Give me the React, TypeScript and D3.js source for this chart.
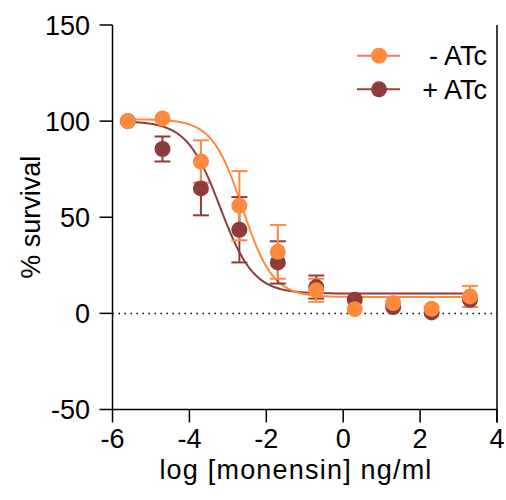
import React from 'react';
import * as d3 from 'd3';

// log10 concentration of each dilution
const logConc = [-5.6, -4.7, -3.7, -2.7, -1.7, -0.7, 0.3, 1.3, 2.3, 3.3];

// - ATc (orange)
const minusMean = [100, 101.4, 79, 56, 32, 12, 2.2, 5.4, 2.4, 8.8];
const minusErr = [0, 0, 11, 18, 14, 6, 0, 0, 0, 5.5];

// + ATc (dark red)
const plusMean = [100, 85.5, 65, 43.5, 26.5, 13.7, 7.1, 3.3, 0.5, 7.1];
const plusErr = [0, 6.5, 14, 17, 11, 6, 0, 0, 0, 0];

// fitted 4-parameter logistic curves: [top, bottom, logIC50, hill]
const minusFit = [101, 8.5, -2.62, 1.1];
const plusFit = [100, 10.3, -3.2, 1.0];

const xTicks = [-6, -4, -2, 0, 2, 4];
const yTicks = [-50, 0, 50, 100, 150];

const ORANGE = '#ff8a3d';
const DARK = '#8e3b3b';
const FONT = '"Liberation Sans", Arial, sans-serif';

const App = () => {
  const width = 506;
  const height = 500;

  const x = d3.scaleLinear().domain([-6, 4]).range([112.5, 497]);
  const y = d3.scaleLinear().domain([-50, 150]).range([409.5, 25]);

  const logistic = (p: number[]) => (v: number) =>
    p[1] + (p[0] - p[1]) / (1 + Math.pow(10, (v - p[2]) * p[3]));

  const curveXs = d3.range(logConc[0], logConc[logConc.length - 1] + 0.001, 0.02);
  const line = d3.line<number>().x(d => x(d)).y(d => y(0));

  const curvePath = (p: number[]) => {
    const f = logistic(p);
    return d3.line<number>().x(d => x(d)).y(d => y(f(d)))(curveXs) || '';
  };

  const series = [
    { name: '+ ATc', mean: plusMean, err: plusErr, color: DARK },
    { name: '- ATc', mean: minusMean, err: minusErr, color: ORANGE },
  ];

  const cap = 8;
  const r = 8;

  return (
    <svg width={width} height={height} style={{ position: 'absolute', left: 0, top: 0, background: '#fff' }}
      fontFamily={FONT}>
      {/* zero reference line */}
      <path d={line([-6, 4]) || ''} stroke="#000" strokeWidth={1.5} strokeDasharray="1.5,4.5" fill="none" />

      {/* fitted curves */}
      <path d={curvePath(plusFit)} stroke={DARK} strokeWidth={2} fill="none" />
      <path d={curvePath(minusFit)} stroke={ORANGE} strokeWidth={2} fill="none" />

      {/* error bars */}
      {series.map(s => (
        <g key={s.name + 'err'} stroke={s.color} strokeWidth={2}>
          {logConc.map((c, i) => s.err[i] > 0 ? (
            <g key={i}>
              <line x1={x(c)} x2={x(c)} y1={y(s.mean[i] + s.err[i])} y2={y(s.mean[i] - s.err[i])} />
              <line x1={x(c) - cap} x2={x(c) + cap} y1={y(s.mean[i] + s.err[i])} y2={y(s.mean[i] + s.err[i])} />
              <line x1={x(c) - cap} x2={x(c) + cap} y1={y(s.mean[i] - s.err[i])} y2={y(s.mean[i] - s.err[i])} />
            </g>
          ) : null)}
        </g>
      ))}

      {/* markers */}
      {series.map(s => (
        <g key={s.name + 'pts'} fill={s.color}>
          {logConc.map((c, i) => (
            <circle key={i} cx={x(c)} cy={y(s.mean[i])} r={r} />
          ))}
        </g>
      ))}

      {/* axes */}
      <g stroke="#000" strokeWidth={1.5}>
        <line x1={x(-6)} x2={x(-6)} y1={y(150)} y2={y(-50)} />
        <line x1={x(-6)} x2={x(4)} y1={y(-50)} y2={y(-50)} />
        <line x1={x(4)} x2={x(4)} y1={y(150)} y2={y(-50) + 13} />
        {yTicks.map(t => (
          <line key={'yt' + t} x1={x(-6) - 13} x2={x(-6)} y1={y(t)} y2={y(t)} />
        ))}
        {xTicks.map(t => (
          <line key={'xt' + t} x1={x(t)} x2={x(t)} y1={y(-50)} y2={y(-50) + 13} />
        ))}
      </g>
      <g fontSize={27} fill="#000">
        {yTicks.map(t => (
          <text key={'yl' + t} x={90} y={y(t)} dy="0.36em" textAnchor="end">{t}</text>
        ))}
        {xTicks.map(t => (
          <text key={'xl' + t} x={x(t)} y={448} textAnchor="middle">{t}</text>
        ))}
        <text x={296} y={479} textAnchor="middle" letterSpacing={1.2}>log [monensin] ng/ml</text>
        <text transform={`translate(40,${y(50)}) rotate(-90)`} textAnchor="middle">% survival</text>
      </g>

      {/* legend */}
      <g>
        <line x1={357} x2={400} y1={55.7} y2={55.7} stroke="#ec7878" strokeWidth={2} />
        <circle cx={379} cy={55.7} r={r} fill={ORANGE} />
        <text x={487} y={65} fontSize={27} textAnchor="end">- ATc</text>
        <line x1={357} x2={400} y1={89.3} y2={89.3} stroke="#9a4636" strokeWidth={2} />
        <circle cx={379} cy={89.3} r={r} fill={DARK} />
        <text x={487} y={98.5} fontSize={27} textAnchor="end">+ ATc</text>
      </g>
    </svg>
  );
};

export default App;
